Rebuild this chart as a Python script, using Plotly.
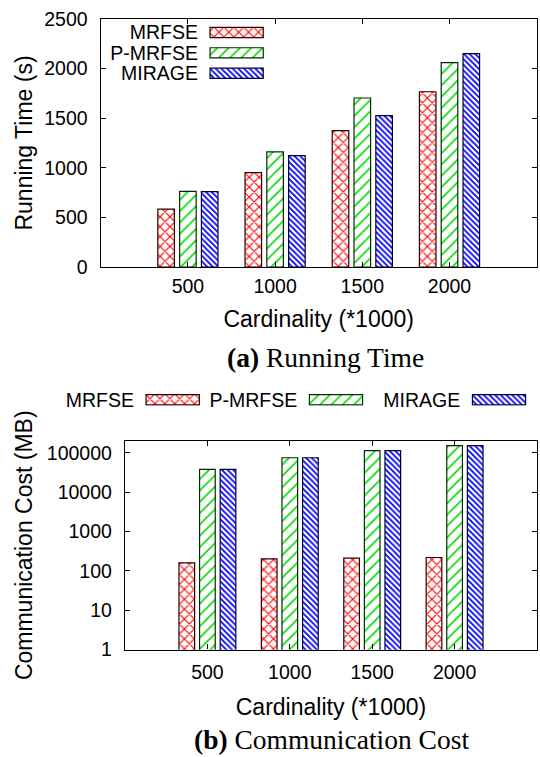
import math
import plotly.graph_objects as go

W, H = 540, 757

# ---------------- data ----------------
categories = ["500", "1000", "1500", "2000"]
series = ["MRFSE", "P-MRFSE", "MIRAGE"]

mrfse_time = [585, 952, 1375, 1766]
pmrfse_time = [764, 1160, 1703, 2060]
mirage_time = [760, 1124, 1525, 2150]

mrfse_comm = [160, 202, 211, 219]
pmrfse_comm = [38000, 74500, 113500, 151000]
mirage_comm = [38000, 74500, 113500, 151000]

time_ticks = [0, 500, 1000, 1500, 2000, 2500]
comm_ticks = [1, 10, 100, 1000, 10000, 100000]
comm_ticktext = ["1", "10", "100", "1000", "10000", "100000"]

# ---------------- styles ----------------
SANS = "Liberation Sans, Arial, sans-serif"
SERIF = "Liberation Serif, Times New Roman, serif"
TICK_FONT = dict(family=SANS, size=19.5, color="black")
TITLE_FONT = dict(family=SANS, size=23, color="black")

styles = {
    "MRFSE": dict(shape="x", fg="#ff0000", size=7, solidity=0.3, line="#2a0000"),
    "P-MRFSE": dict(shape="/", fg="#00dd00", size=8, solidity=0.2, line="#002a00"),
    "MIRAGE": dict(shape="\\", fg="#0000ff", size=4, solidity=0.45, line="#00002a"),
}


def px_x(x):
    return x / W


def px_y(y):
    return 1 - y / H


def marker_for(name):
    s = styles[name]
    return dict(
        color="white",
        line=dict(color=s["line"], width=1.2),
        pattern=dict(shape=s["shape"], fgcolor=s["fg"], bgcolor="white", fgopacity=1,
                     size=s["size"], solidity=s["solidity"], fillmode="overlay"),
    )


fig = go.Figure()

# main bars: running time
for name, vals in zip(series, [mrfse_time, pmrfse_time, mirage_time]):
    fig.add_trace(go.Bar(x=categories, y=vals, name=name, marker=marker_for(name),
                         showlegend=False, xaxis="x", yaxis="y"))

# main bars: communication cost
for name, vals in zip(series, [mrfse_comm, pmrfse_comm, mirage_comm]):
    fig.add_trace(go.Bar(x=categories, y=vals, name=name, marker=marker_for(name),
                         showlegend=False, xaxis="x2", yaxis="y2"))

# key for top panel (text on the left, swatch on the right, gnuplot style)
fig.add_trace(go.Bar(
    y=series, x=[1] * len(series), orientation="h", width=0.5,
    marker=dict(
        color="white",
        line=dict(color=[styles[s]["line"] for s in series], width=1.2),
        pattern=dict(shape=[styles[s]["shape"] for s in series],
                     fgcolor=[styles[s]["fg"] for s in series], bgcolor="white", fgopacity=1,
                     size=[styles[s]["size"] for s in series],
                     solidity=[styles[s]["solidity"] for s in series], fillmode="overlay"),
    ),
    showlegend=False, hoverinfo="skip", xaxis="x3", yaxis="y3"))

# key for bottom panel (horizontal row)
for i, name in enumerate(series):
    fig.add_trace(go.Bar(y=[name], x=[1], orientation="h", width=1.0,
                         marker=marker_for(name), showlegend=False, hoverinfo="skip",
                         xaxis="x%d" % (4 + i), yaxis="y%d" % (4 + i)))

frame = dict(showline=True, linecolor="black", linewidth=1.4, mirror="allticks",
             ticks="inside", ticklen=5, tickcolor="black", tickwidth=1.2,
             showgrid=False, zeroline=False, tickfont=TICK_FONT, automargin=False)

layout = dict(
    width=W, height=H, margin=dict(l=0, r=0, t=0, b=0),
    paper_bgcolor="white", plot_bgcolor="white",
    barmode="group", bargap=0.25, bargroupgap=0.24,
    showlegend=False,
    xaxis=dict(domain=[px_x(100.7), px_x(536.7)], anchor="y", type="category",
               range=[-1, 4], ticklabelstandoff=1,
               title=dict(text="Cardinality (*1000)", font=TITLE_FONT, standoff=15), **frame),
    yaxis=dict(domain=[px_y(265.7), px_y(14)], anchor="x", range=[0, 2500],
               tickvals=time_ticks, ticklabelstandoff=8,
               title=dict(text="Running Time (s)", font=TITLE_FONT, standoff=5), **frame),
    xaxis2=dict(domain=[px_x(125), px_x(537)], anchor="y2", type="category",
                range=[-1, 4], ticklabelstandoff=5,
                title=dict(text="Cardinality (*1000)", font=TITLE_FONT, standoff=16), **frame),
    yaxis2=dict(domain=[px_y(653.3), px_y(441.7)], anchor="x2", type="log",
                range=[0, math.log10(200000)], tickvals=comm_ticks, ticktext=comm_ticktext,
                ticklabelstandoff=8,
                title=dict(text="Communication Cost (MB)", font=TITLE_FONT, standoff=7), **frame),
    xaxis3=dict(domain=[px_x(209), px_x(264.3)], anchor="y3", range=[-0.02, 1.02],
                visible=False),
    yaxis3=dict(domain=[px_y(79.5), px_y(17.5)], anchor="x3", type="category",
                categoryarray=series, tickmode="array", tickvals=series, ticktext=series,
                autorange="reversed", showline=False, ticks="",
                showgrid=False, zeroline=False, tickfont=TICK_FONT, ticklabelstandoff=10),
    annotations=[
        dict(text="<b>(a)</b> Running Time", x=px_x(325.5), y=px_y(357), xref="paper",
             yref="paper", showarrow=False, xanchor="center", yanchor="middle",
             font=dict(family=SERIF, size=27.5, color="black")),
        dict(text="<b>(b)</b> Communication Cost", x=px_x(331), y=px_y(744), xref="paper",
             yref="paper", showarrow=False, xanchor="center", yanchor="middle",
             font=dict(family=SERIF, size=27.5, color="black")),
    ],
)

swatch_left = [146, 309.3, 472.3]
for i, name in enumerate(series):
    k = 4 + i
    layout["xaxis%d" % k] = dict(domain=[px_x(swatch_left[i] - 1), px_x(swatch_left[i] + 54.4)],
                                 anchor="y%d" % k, range=[-0.02, 1.02], visible=False)
    layout["yaxis%d" % k] = dict(domain=[px_y(406), px_y(394)], anchor="x%d" % k,
                                 type="category", range=[-0.5 - 1 / 12, 0.5 + 1 / 12],
                                 tickmode="array", tickvals=[name], ticktext=[name],
                                 showline=False, ticks="", showgrid=False, zeroline=False,
                                 tickfont=TICK_FONT, ticklabelstandoff=10)

fig.update_layout(**layout)
fig.write_html(
    "out.html",
    config={"displayModeBar": False},
    post_script="document.body.style.margin='0';document.body.style.overflow='hidden';",
)
